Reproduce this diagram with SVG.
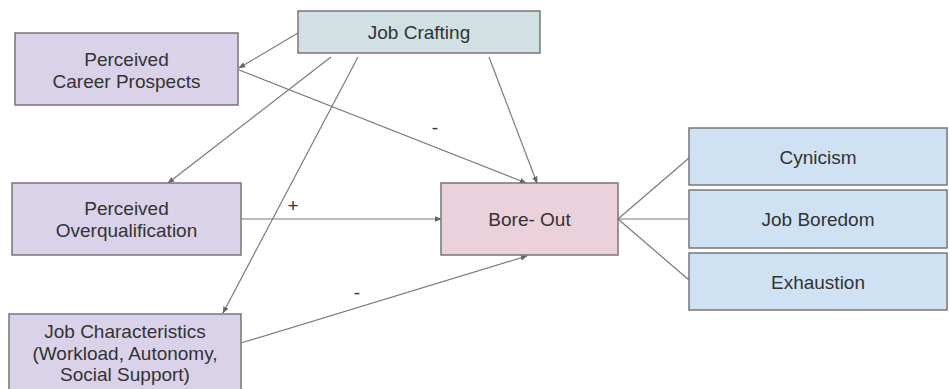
<svg xmlns="http://www.w3.org/2000/svg" width="949" height="389" viewBox="0 0 949 389">
<defs>
<style>
.box{stroke:#777;stroke-width:1.5}
.purple{fill:#d9d2e9}
.cyan{fill:#d0e0e3}
.pink{fill:#ead1dc}
.blue{fill:#cfe2f3}
text{font-family:"Liberation Sans",Arial,sans-serif;font-size:19px;fill:#333;text-anchor:middle}
.conn line{stroke:#7a7a7a;stroke-width:1.2;fill:none}
.arr{marker-end:url(#ah)}
</style>
<marker id="ah" viewBox="0 0 10 10" refX="9" refY="5" markerWidth="7" markerHeight="7" markerUnits="userSpaceOnUse" orient="auto">
<path d="M0,1 L10,5 L0,9 z" fill="#666"/>
</marker>
</defs>
<rect width="949" height="389" fill="#fff"/>
<g id="connectors" class="conn">
<line class="arr" x1="298" y1="33" x2="239" y2="68"/>
<line class="arr" x1="239" y1="70" x2="526" y2="183"/>
<line class="arr" x1="331" y1="57" x2="168" y2="183"/>
<line class="arr" x1="358" y1="57" x2="223" y2="313"/>
<line class="arr" x1="489" y1="57" x2="537" y2="183"/>
<line class="arr" x1="241" y1="219" x2="441" y2="219"/>
<line class="arr" x1="241" y1="343" x2="527" y2="256"/>
<line x1="618" y1="219" x2="689" y2="158"/>
<line x1="618" y1="219" x2="689" y2="219"/>
<line x1="618" y1="219" x2="689" y2="280"/>
<text x="435" y="134">-</text>
<text x="293" y="212">+</text>
<text x="357" y="299">-</text>
</g>
<g id="job-crafting">
<rect class="box cyan" x="298" y="11" width="242" height="42"/>
<text x="419" y="39">Job Crafting</text>
</g>
<g id="career-prospects">
<rect class="box purple" x="15" y="33" width="223" height="72"/>
<text x="126.5" y="66">Perceived</text>
<text x="126.5" y="87.5">Career Prospects</text>
</g>
<g id="overqualification">
<rect class="box purple" x="12" y="183" width="229" height="72"/>
<text x="126.5" y="215">Perceived</text>
<text x="126.5" y="236.5">Overqualification</text>
</g>
<g id="job-characteristics">
<rect class="box purple" x="9" y="314" width="232" height="80"/>
<text x="125" y="338">Job Characteristics</text>
<text x="125" y="360">(Workload, Autonomy,</text>
<text x="125" y="381">Social Support)</text>
</g>
<g id="bore-out">
<rect class="box pink" x="441" y="183" width="177" height="72"/>
<text x="529.5" y="226">Bore- Out</text>
</g>
<g id="cynicism">
<rect class="box blue" x="689" y="128" width="258" height="57"/>
<text x="818" y="164">Cynicism</text>
</g>
<g id="job-boredom">
<rect class="box blue" x="689" y="190" width="258" height="58"/>
<text x="818" y="226">Job Boredom</text>
</g>
<g id="exhaustion">
<rect class="box blue" x="689" y="253" width="258" height="57"/>
<text x="818" y="289">Exhaustion</text>
</g>
</svg>
